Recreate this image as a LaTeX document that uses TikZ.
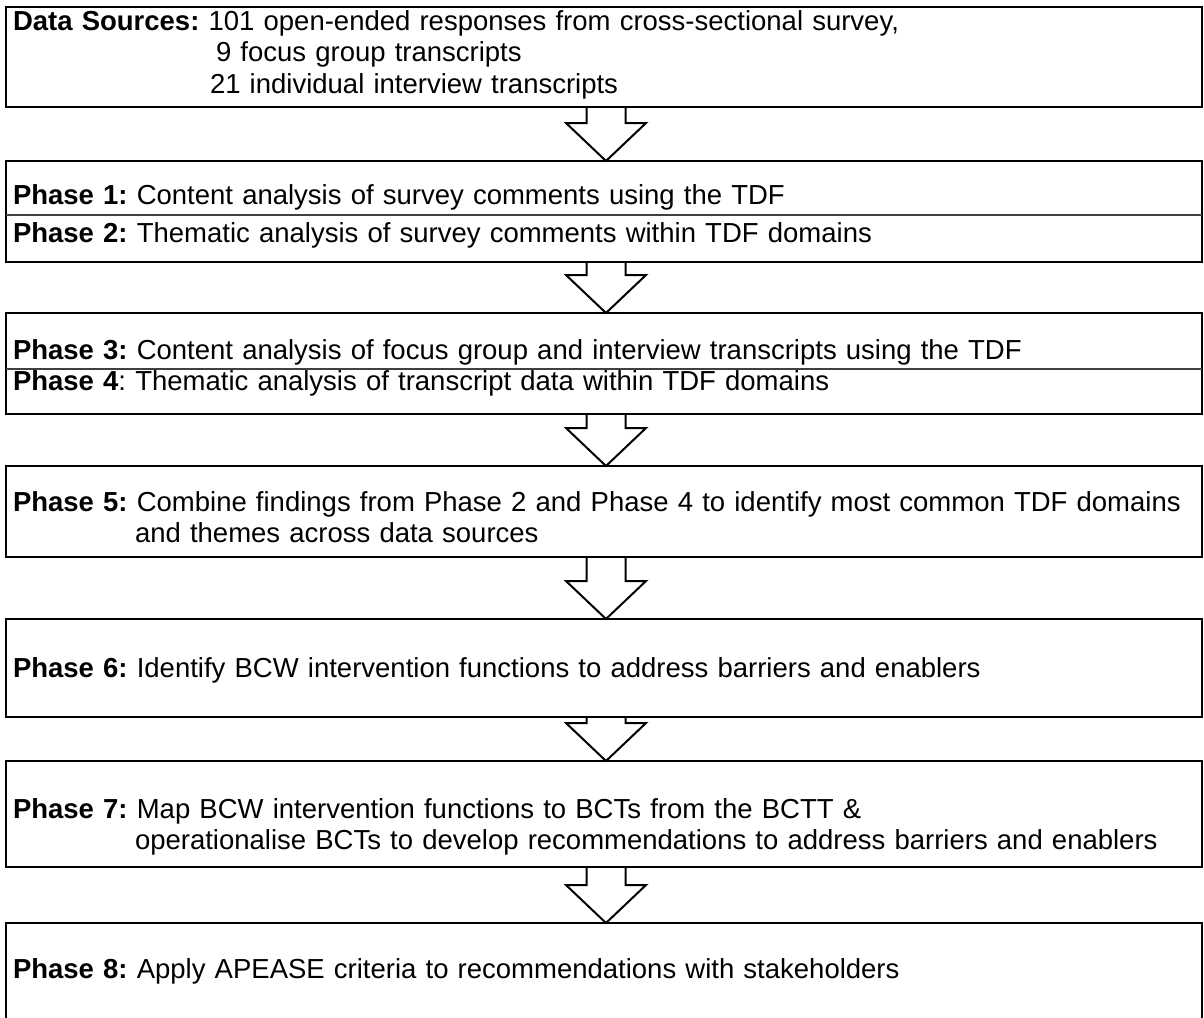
\documentclass[tikz,border=0pt]{standalone}
\usepackage{fontspec}
\setmainfont{Liberation Sans}
\usepackage{tikz}
\usetikzlibrary{positioning,calc}
\frenchspacing

% hollow block arrow from the bottom of one box to the top of the next
\newcommand{\flowarrow}[2]{%
  \draw[flow] ($(#1.south)+(-17.5,0)$) -- ($(#2.north)+(-17.5,-38)$)
    -- ($(#2.north)+(-38,-38)$) -- ($(#2.north)+(2,0)$) -- ($(#2.north)+(42,-38)$)
    -- ($(#2.north)+(21.5,-38)$) -- ($(#1.south)+(21.5,0)$);}

\begin{document}
\begin{tikzpicture}[x=1pt,y=-1pt,
    row/.style={rectangle, outer sep=0pt, inner xsep=7pt, inner ysep=0pt,
      text width=1182pt, align=left, font=\fontsize{27.5}{31.5}\selectfont},
    stage/.style={row, draw, line width=2pt},
    frame/.style={line width=2pt},
    divider/.style={line width=1.2pt, black!75},
    flow/.style={line width=2pt, line join=miter}]
    \useasboundingbox (0,0) rectangle (1204,1017);
    \clip (0,0) rectangle (1204,1017);

    \node[stage, anchor=north west, text height=23pt, text depth=77pt] (src) at (6,7)
        {\textbf{Data Sources:} 101 open-ended responses from cross-sectional survey,\\
         \hspace*{203pt}9 focus group transcripts\\
         \hspace*{197pt}21 individual interview transcripts};

    \node[row, below=54pt of src, text height=43pt, text depth=11pt] (ph1)
        {\textbf{Phase 1:} Content analysis of survey comments using the TDF};
    \node[row, below=0pt of ph1, text height=27pt, text depth=20pt] (ph2)
        {\textbf{Phase 2:} Thematic analysis of survey comments within TDF domains};
    \draw[frame] (ph1.north west) rectangle (ph2.south east);
    \draw[divider] (ph1.south west) -- (ph1.south east);

    \node[row, below=51pt of ph2, text height=46pt, text depth=10pt] (ph3)
        {\textbf{Phase 3:} Content analysis of focus group and interview transcripts using the TDF};
    \node[row, below=0pt of ph3, text height=21pt, text depth=24pt] (ph4)
        {\textbf{Phase 4}: Thematic analysis of transcript data within TDF domains};
    \draw[frame] (ph3.north west) rectangle (ph4.south east);
    \draw[divider] (ph3.south west) -- (ph3.south east);

    \node[stage, below=52pt of ph4, text height=45pt, text depth=46pt] (ph5)
        {\textbf{Phase 5:} Combine findings from Phase 2 and Phase 4 to identify most common TDF domains\\
         \hspace*{122pt}and themes across data sources};
    \node[stage, below=62pt of ph5, text height=58pt, text depth=40pt] (ph6)
        {\textbf{Phase 6:} Identify BCW intervention functions to address barriers and enablers};
    \node[stage, below=44pt of ph6, text height=57pt, text depth=49pt] (ph7)
        {\textbf{Phase 7:} Map BCW intervention functions to BCTs from the BCTT \&\\
         \hspace*{122pt}operationalise BCTs to develop recommendations to address barriers and enablers};
    \node[stage, below=56pt of ph7, text height=55pt, text depth=52pt] (ph8)
        {\textbf{Phase 8:} Apply APEASE criteria to recommendations with stakeholders};

    \flowarrow{src}{ph1}
    \flowarrow{ph2}{ph3}
    \flowarrow{ph4}{ph5}
    \flowarrow{ph5}{ph6}
    \flowarrow{ph6}{ph7}
    \flowarrow{ph7}{ph8}
\end{tikzpicture}
\end{document}
